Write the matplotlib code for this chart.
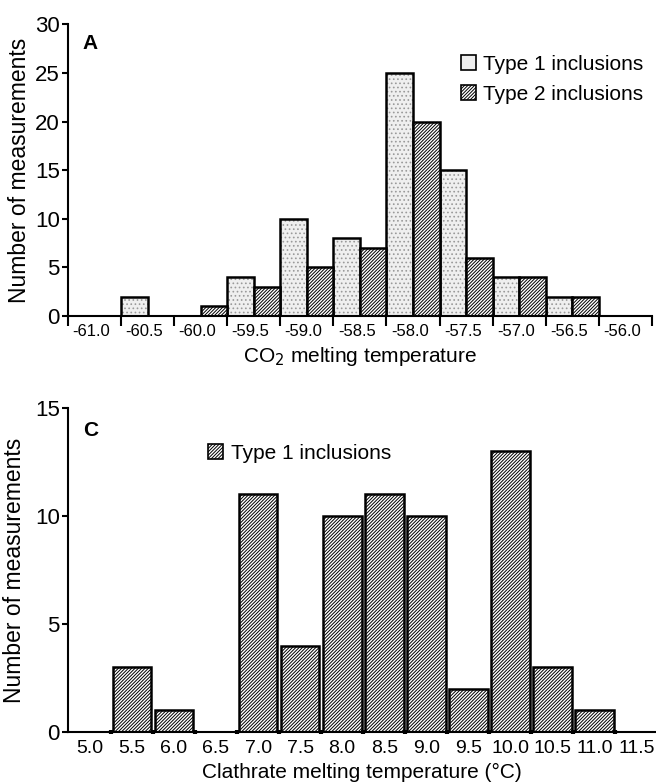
import matplotlib
matplotlib.use("Agg")
import matplotlib.pyplot as plt
import numpy as np

plt.rcParams["font.family"] = ["Liberation Sans", "DejaVu Sans"]
plt.rcParams["hatch.linewidth"] = 0.7

# panel A: CO2 melting temperature
co2_temps = [-61.0, -60.5, -60.0, -59.5, -59.0, -58.5, -58.0, -57.5, -57.0, -56.5, -56.0]
co2_type1 = [0, 2, 0, 4, 10, 8, 25, 15, 4, 2, 0]
co2_type2 = [0, 0, 1, 3, 5, 7, 20, 6, 4, 2, 0]

# panel C: clathrate melting temperature
clath_temps = [5.0, 5.5, 6.0, 6.5, 7.0, 7.5, 8.0, 8.5, 9.0, 9.5, 10.0, 10.5, 11.0, 11.5]
clath_type1 = [0, 3, 1, 0, 11, 4, 10, 11, 10, 2, 13, 3, 1, 0]

DOTS = "#9a9a9a"
HATCH = "//////////"
fig = plt.figure(figsize=(6.56, 7.84), dpi=100, facecolor="white")

# ---- panel A ----
ax1 = fig.add_axes([0.1037, 0.597, 0.890, 0.372])
t = np.array(co2_temps)
# dotted fill first, then black outline on top
ax1.bar(t - 0.125, co2_type1, width=0.25, facecolor="#efefef", edgecolor=DOTS,
        linewidth=0, hatch="....")
ax1.bar(t - 0.125, co2_type1, width=0.25, fill=False, edgecolor="black", linewidth=1.8)
ax1.bar(t + 0.125, co2_type2, width=0.25, facecolor="white", edgecolor="black",
        linewidth=1.8, hatch=HATCH)
ax1.set_xlim(t[0] - 0.25, t[-1] + 0.25)
ax1.set_ylim(0, 30)
ax1.set_yticks(range(0, 31, 5))
edges = np.append(t - 0.25, t[-1] + 0.25)
ax1.set_xticks(edges)
ax1.set_xticklabels([])
ax1.set_xticks(t - 0.03, minor=True)
ax1.set_xticklabels([f"{v:.1f}" for v in co2_temps], minor=True, fontsize=12)
ax1.tick_params(axis="x", which="major", direction="out", length=7, width=1.5)
ax1.tick_params(axis="x", which="minor", length=0, pad=6)
ax1.tick_params(axis="y", direction="out", length=4, width=1.5, labelsize=16, pad=2)
ax1.set_ylabel("Number of measurements", fontsize=16.5, labelpad=3)
ax1.set_xlabel("CO$_2$ melting temperature", fontsize=15, labelpad=4)
ax1.text(0.025, 0.915, "A", transform=ax1.transAxes, fontsize=15, fontweight="bold")

h1 = plt.Rectangle((0, 0), 1, 1, facecolor="#efefef", edgecolor="black", linewidth=1.2)
h2 = plt.Rectangle((0, 0), 1, 1, facecolor="white", edgecolor="black", linewidth=1.2,
                   hatch=HATCH)
ax1.legend([h1, h2], ["Type 1 inclusions", "Type 2 inclusions"], loc="upper right",
           bbox_to_anchor=(1.0, 0.925), frameon=False, fontsize=15,
           handlelength=0.7, handleheight=0.7, handletextpad=0.35, labelspacing=0.55,
           borderaxespad=0)

# ---- panel C ----
ax2 = fig.add_axes([0.1037, 0.0663, 0.8948, 0.4133])
c = np.array(clath_temps)
ax2.bar(c, clath_type1, width=0.46, facecolor="white", edgecolor="black",
        linewidth=1.8, hatch=HATCH)
ax2.set_xlim(4.74, 11.72)
ax2.set_ylim(0, 15)
ax2.set_yticks([0, 5, 10, 15])
ax2.set_xticks(c)
ax2.set_xticklabels([f"{v:.1f}" for v in clath_temps])
ax2.set_xticks(c[1:] - 0.25, minor=True)
ax2.tick_params(axis="x", which="major", length=0, labelsize=14, pad=6)
ax2.tick_params(axis="x", which="minor", direction="inout", length=3, width=3)
ax2.tick_params(axis="y", direction="out", length=4, width=1.5, labelsize=16, pad=2)
ax2.set_ylabel("Number of measurements", fontsize=16.5, labelpad=6)
ax2.set_xlabel("Clathrate melting temperature (\u00b0C)", fontsize=15, labelpad=4)
ax2.text(0.025, 0.915, "C", transform=ax2.transAxes, fontsize=15, fontweight="bold")
h3 = plt.Rectangle((0, 0), 1, 1, facecolor="white", edgecolor="black", linewidth=1.2,
                   hatch=HATCH)
ax2.legend([h3], ["Type 1 inclusions"], loc="upper left", bbox_to_anchor=(0.225, 0.915),
           frameon=False, fontsize=15, handlelength=0.7, handleheight=0.7,
           handletextpad=0.4, borderaxespad=0)

for ax in (ax1, ax2):
    ax.spines["top"].set_visible(False)
    ax.spines["right"].set_visible(False)
    ax.spines["left"].set_linewidth(1.5)
    ax.spines["bottom"].set_linewidth(1.5)

fig.savefig("out.png", dpi=100, facecolor="white")
